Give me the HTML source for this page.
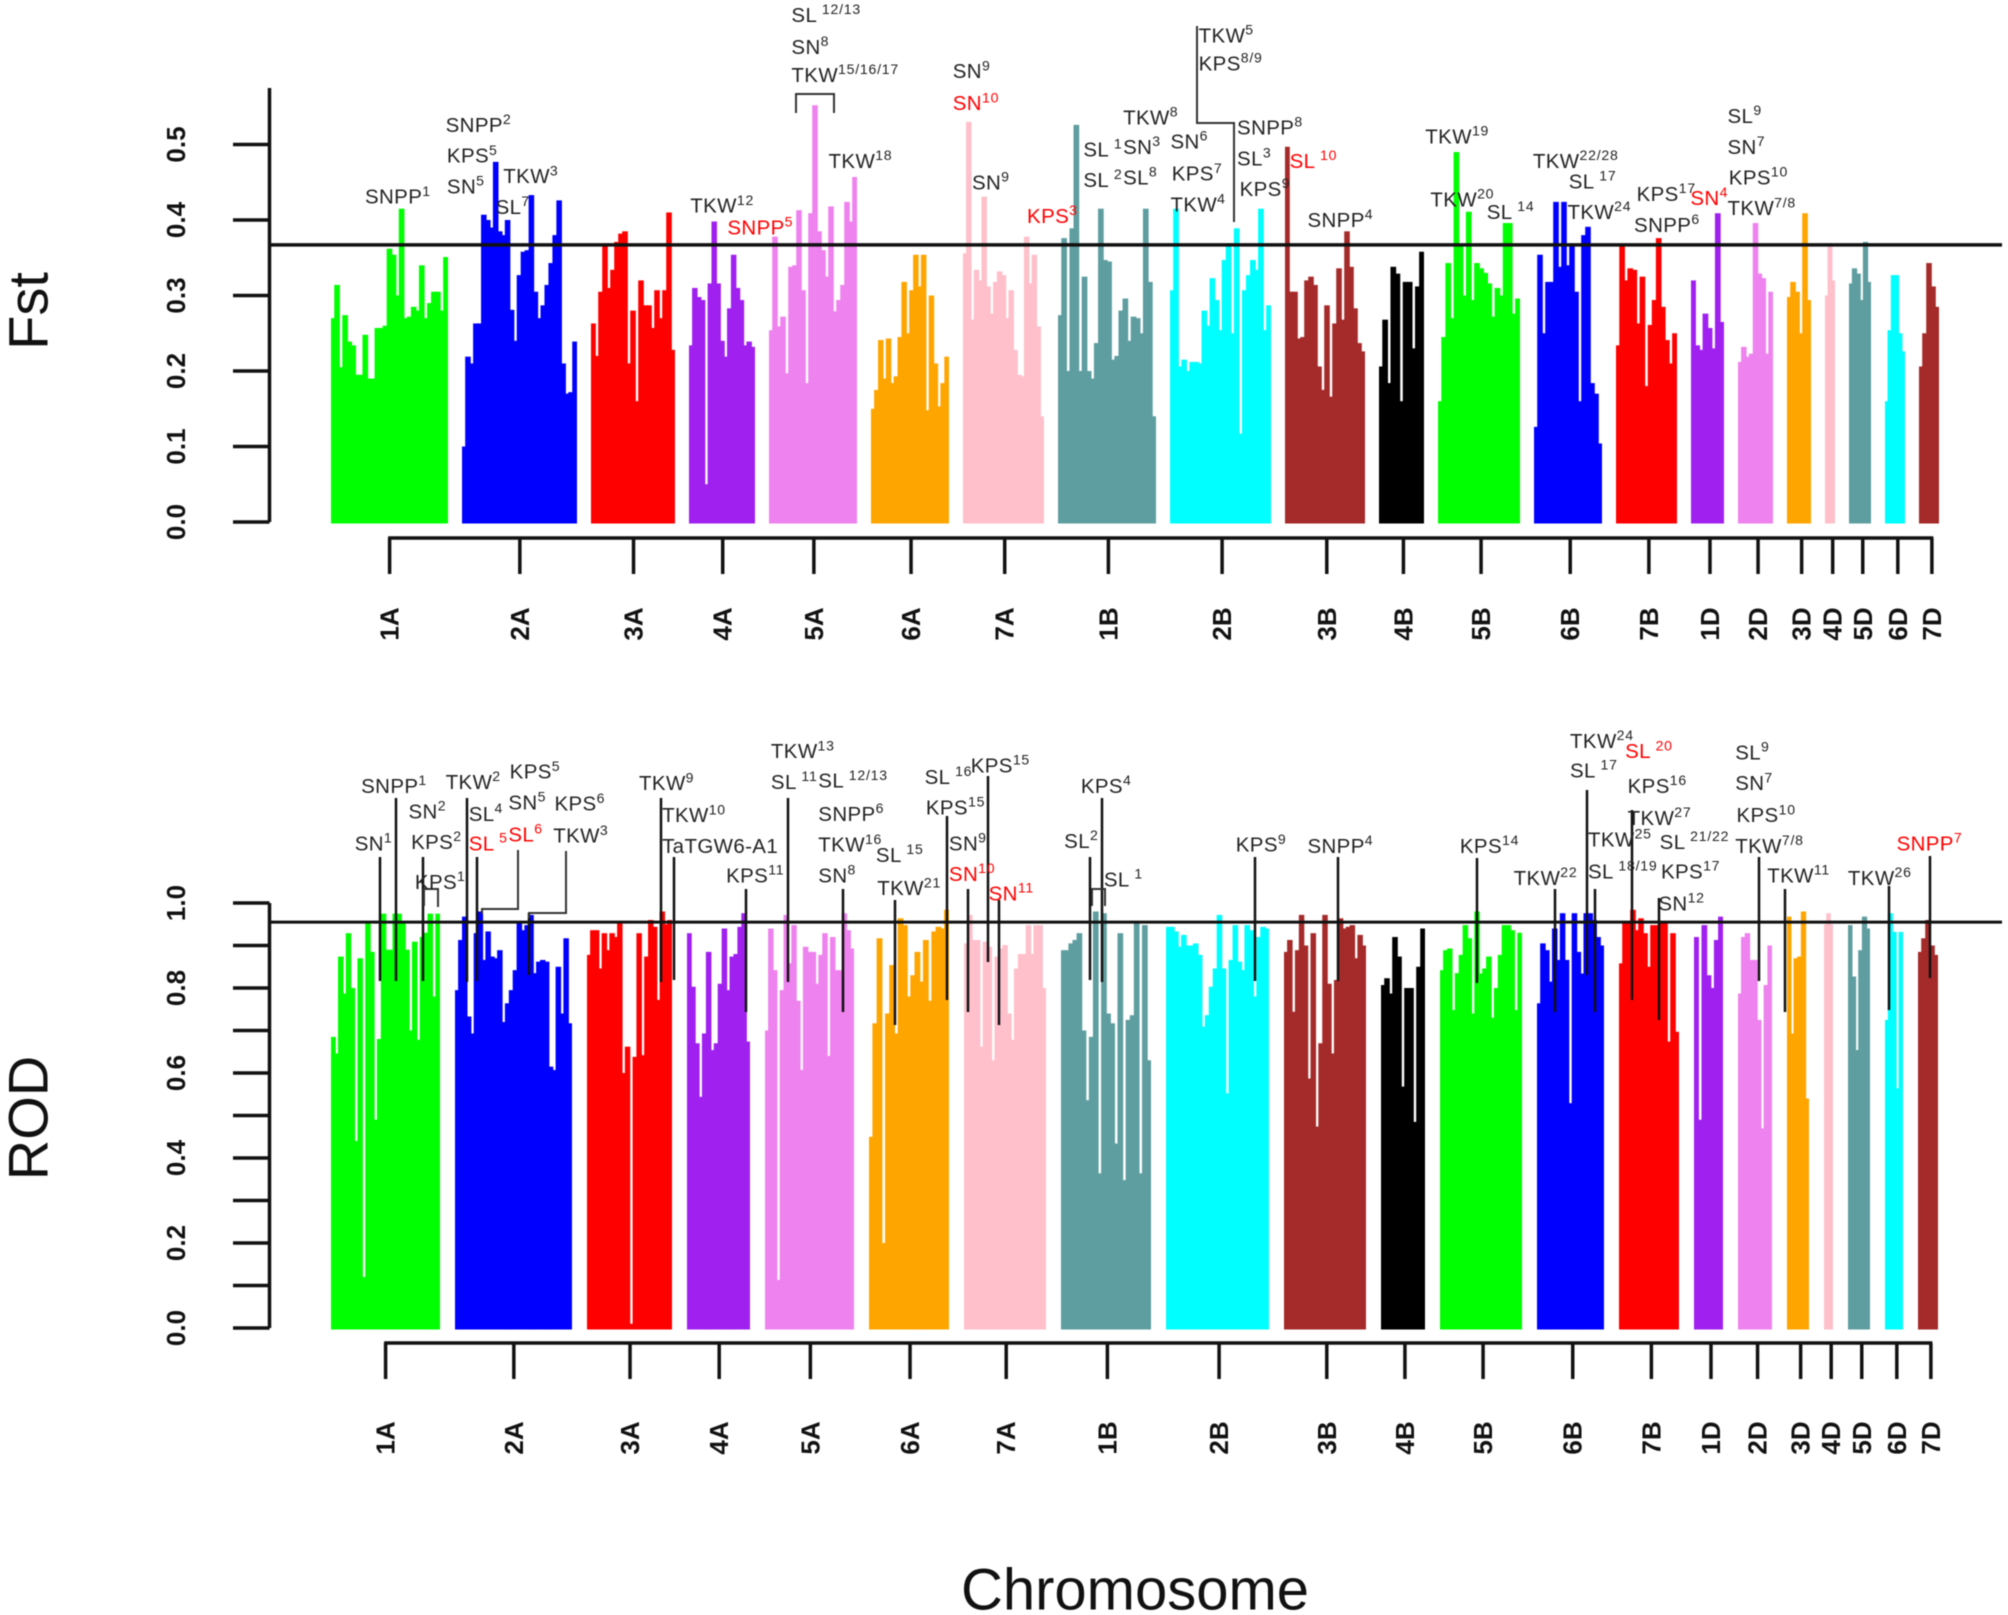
<!DOCTYPE html>
<html lang="en">
<head>
<meta charset="utf-8">
<title>Fst and ROD Manhattan plots</title>
<style>
html,body{margin:0;padding:0;background:#fff;}
svg{display:block;font-family:"Liberation Sans",sans-serif;filter:blur(.6px);}
.ann text{font-size:16px;fill:#222;dominant-baseline:central;letter-spacing:.3px;}
.ann text.r{fill:#f00;}
.ann tspan{font-size:11px;letter-spacing:.6px;}
.ln{stroke:#111;stroke-width:2.5;fill:none;}
.cn{stroke:#333;stroke-width:2;fill:none;}
.t{font-weight:bold;font-size:26px;fill:#111;text-anchor:middle;dominant-baseline:central;}
.title{font-size:56px;fill:#111;text-anchor:middle;dominant-baseline:central;}
</style>
</head>
<body>
<svg id="chart" xmlns="http://www.w3.org/2000/svg" width="2008" height="1615" viewBox="0 0 2008 1615">
<g id="fst-panel"></g>
<g id="rod-panel"></g>

<text class="title" transform="translate(28 311) rotate(-90)">Fst</text>
<text class="title" transform="translate(28 1118) rotate(-90)">ROD</text>
<text class="title" style="font-size:58px" x="1135" y="1590">Chromosome</text>

<g>
<path class="ln" d="M380 857V981"/>
<path class="ln" d="M396 798V981"/>
<path class="ln" d="M423 857V981"/>
<path class="ln" d="M467 798V982"/>
<path class="ln" d="M477 857V981"/>
<path class="ln" d="M529 913V975"/>
<path class="ln" d="M661 798V982"/>
<path class="ln" d="M674 857V980"/>
<path class="ln" d="M746 889V1012"/>
<path class="ln" d="M788 798V982"/>
<path class="ln" d="M843 889V1012"/>
<path class="ln" d="M895 900V1025"/>
<path class="ln" d="M947 816V1000"/>
<path class="ln" d="M968 889V1012"/>
<path class="ln" d="M988 776V962"/>
<path class="ln" d="M999 900V1025"/>
<path class="ln" d="M1090 857V980"/>
<path class="ln" d="M1102 798V982"/>
<path class="ln" d="M1255 857V981"/>
<path class="ln" d="M1338 857V981"/>
<path class="ln" d="M1477 858V983"/>
<path class="ln" d="M1555 889V1012"/>
<path class="ln" d="M1587 790V975"/>
<path class="ln" d="M1595 889V1012"/>
<path class="ln" d="M1632 810V1000"/>
<path class="ln" d="M1659 898V1020"/>
<path class="ln" d="M1759 857V981"/>
<path class="ln" d="M1785 889V1012"/>
<path class="ln" d="M1889 886V1010"/>
<path class="ln" d="M1930 856V978"/>
<path class="cn" d="M424 906V889H438V907"/>
<path class="cn" d="M518 850V909H482V914"/>
<path class="cn" d="M566 851V913H529V918"/>
<path class="cn" d="M1092 906V889H1105V906"/>
<path class="cn" d="M796 113V94H834V113"/>
<path class="cn" d="M1197 26V123H1234V222"/>
</g>

<g class="ann" transform="scale(1.2806)">
<text x="285" y="154">SNPP<tspan dy="-5">1</tspan></text>
<text x="348" y="98">SNPP<tspan dy="-5">2</tspan></text>
<text x="349" y="122">KPS<tspan dy="-5">5</tspan></text>
<text x="349" y="146">SN<tspan dy="-5">5</tspan></text>
<text x="393" y="138">TKW<tspan dy="-5">3</tspan></text>
<text x="387" y="162">SL<tspan dy="-5">7</tspan></text>
<text x="539" y="161">TKW<tspan dy="-5">12</tspan></text>
<text class="r" x="568" y="178">SNPP<tspan dy="-5">5</tspan></text>
<text x="618" y="12">SL<tspan dy="-5"> 12/13</tspan></text>
<text x="618" y="37">SN<tspan dy="-5">8</tspan></text>
<text x="618" y="59">TKW<tspan dy="-5">15/16/17</tspan></text>
<text x="647" y="126">TKW<tspan dy="-5">18</tspan></text>
<text x="744" y="56">SN<tspan dy="-5">9</tspan></text>
<text class="r" x="744" y="81">SN<tspan dy="-5">10</tspan></text>
<text x="759" y="143">SN<tspan dy="-5">9</tspan></text>
<text class="r" x="802" y="169">KPS<tspan dy="-5">3</tspan></text>
<text x="846" y="117">SL<tspan dy="-5"> 1</tspan></text>
<text x="846" y="141">SL<tspan dy="-5"> 2</tspan></text>
<text x="877" y="92">TKW<tspan dy="-5">8</tspan></text>
<text x="877" y="115">SN<tspan dy="-5">3</tspan></text>
<text x="877" y="139">SL<tspan dy="-5">8</tspan></text>
<text x="914" y="111">SN<tspan dy="-5">6</tspan></text>
<text x="915" y="136">KPS<tspan dy="-5">7</tspan></text>
<text x="914" y="160">TKW<tspan dy="-5">4</tspan></text>
<text x="936" y="28">TKW<tspan dy="-5">5</tspan></text>
<text x="936" y="50">KPS<tspan dy="-5">8/9</tspan></text>
<text x="966" y="100">SNPP<tspan dy="-5">8</tspan></text>
<text x="966" y="124">SL<tspan dy="-5">3</tspan></text>
<text x="968" y="148">KPS<tspan dy="-5">9</tspan></text>
<text class="r" x="1007" y="126">SL<tspan dy="-5"> 10</tspan></text>
<text x="1021" y="172">SNPP<tspan dy="-5">4</tspan></text>
<text x="1113" y="107">TKW<tspan dy="-5">19</tspan></text>
<text x="1117" y="156">TKW<tspan dy="-5">20</tspan></text>
<text x="1161" y="166">SL<tspan dy="-5"> 14</tspan></text>
<text x="1197" y="126">TKW<tspan dy="-5">22/28</tspan></text>
<text x="1225" y="142">SL<tspan dy="-5"> 17</tspan></text>
<text x="1224" y="166">TKW<tspan dy="-5">24</tspan></text>
<text x="1278" y="152">KPS<tspan dy="-5">17</tspan></text>
<text x="1276" y="176">SNPP<tspan dy="-5">6</tspan></text>
<text class="r" x="1320" y="155">SN<tspan dy="-5">4</tspan></text>
<text x="1349" y="91">SL<tspan dy="-5">9</tspan></text>
<text x="1349" y="115">SN<tspan dy="-5">7</tspan></text>
<text x="1350" y="139">KPS<tspan dy="-5">10</tspan></text>
<text x="1349" y="163">TKW<tspan dy="-5">7/8</tspan></text>
</g>

<g class="ann" transform="scale(1.2806)">
<text x="277" y="659">SN<tspan dy="-5">1</tspan></text>
<text x="282" y="614">SNPP<tspan dy="-5">1</tspan></text>
<text x="319" y="634">SN<tspan dy="-5">2</tspan></text>
<text x="321" y="658">KPS<tspan dy="-5">2</tspan></text>
<text x="324" y="689">KPS<tspan dy="-5">1</tspan></text>
<text x="348" y="611">TKW<tspan dy="-5">2</tspan></text>
<text x="398" y="603">KPS<tspan dy="-5">5</tspan></text>
<text x="366" y="636">SL<tspan dy="-5">4</tspan></text>
<text x="397" y="627">SN<tspan dy="-5">5</tspan></text>
<text class="r" x="366" y="659">SL<tspan dy="-5"> 5</tspan></text>
<text class="r" x="397" y="652">SL<tspan dy="-5">6</tspan></text>
<text x="433" y="628">KPS<tspan dy="-5">6</tspan></text>
<text x="432" y="653">TKW<tspan dy="-5">3</tspan></text>
<text x="499" y="612">TKW<tspan dy="-5">9</tspan></text>
<text x="517" y="637">TKW<tspan dy="-5">10</tspan></text>
<text x="517" y="661">TaTGW6-A1</text>
<text x="567" y="684">KPS<tspan dy="-5">11</tspan></text>
<text x="602" y="587">TKW<tspan dy="-5">13</tspan></text>
<text x="602" y="611">SL<tspan dy="-5"> 11</tspan></text>
<text x="639" y="610">SL<tspan dy="-5"> 12/13</tspan></text>
<text x="639" y="636">SNPP<tspan dy="-5">6</tspan></text>
<text x="639" y="660">TKW<tspan dy="-5">16</tspan></text>
<text x="639" y="684">SN<tspan dy="-5">8</tspan></text>
<text x="684" y="668">SL<tspan dy="-5"> 15</tspan></text>
<text x="685" y="694">TKW<tspan dy="-5">21</tspan></text>
<text x="722" y="607">SL<tspan dy="-5"> 16</tspan></text>
<text x="723" y="631">KPS<tspan dy="-5">15</tspan></text>
<text x="741" y="659">SN<tspan dy="-5">9</tspan></text>
<text class="r" x="741" y="683">SN<tspan dy="-5">10</tspan></text>
<text x="758" y="598">KPS<tspan dy="-5">15</tspan></text>
<text class="r" x="772" y="698">SN<tspan dy="-5">11</tspan></text>
<text x="831" y="657">SL<tspan dy="-5">2</tspan></text>
<text x="844" y="614">KPS<tspan dy="-5">4</tspan></text>
<text x="862" y="687">SL<tspan dy="-5"> 1</tspan></text>
<text x="965" y="660">KPS<tspan dy="-5">9</tspan></text>
<text x="1021" y="661">SNPP<tspan dy="-5">4</tspan></text>
<text x="1140" y="661">KPS<tspan dy="-5">14</tspan></text>
<text x="1182" y="686">TKW<tspan dy="-5">22</tspan></text>
<text x="1226" y="579">TKW<tspan dy="-5">24</tspan></text>
<text x="1226" y="602">SL<tspan dy="-5"> 17</tspan></text>
<text class="r" x="1269" y="587">SL<tspan dy="-5"> 20</tspan></text>
<text x="1271" y="614">KPS<tspan dy="-5">16</tspan></text>
<text x="1271" y="639">TKW<tspan dy="-5">27</tspan></text>
<text x="1240" y="656">TKW<tspan dy="-5">25</tspan></text>
<text x="1296" y="658">SL<tspan dy="-5"> 21/22</tspan></text>
<text x="1240" y="681">SL<tspan dy="-5"> 18/19</tspan></text>
<text x="1297" y="681">KPS<tspan dy="-5">17</tspan></text>
<text x="1295" y="706">SN<tspan dy="-5">12</tspan></text>
<text x="1355" y="588">SL<tspan dy="-5">9</tspan></text>
<text x="1355" y="612">SN<tspan dy="-5">7</tspan></text>
<text x="1356" y="637">KPS<tspan dy="-5">10</tspan></text>
<text x="1355" y="661">TKW<tspan dy="-5">7/8</tspan></text>
<text x="1380" y="684">TKW<tspan dy="-5">11</tspan></text>
<text x="1443" y="686">TKW<tspan dy="-5">26</tspan></text>
<text class="r" x="1481" y="659">SNPP<tspan dy="-5">7</tspan></text>
</g>
</svg>

<script>
const categories = ["1A","2A","3A","4A","5A","6A","7A","1B","2B","3B","4B","5B","6B","7B","1D","2D","3D","4D","5D","6D","7D"];
const chromColors = ["#00ff00","#0000ff","#ff0000","#a020f0","#ee82ee","#ffa500","#ffc0cb","#5f9ea0","#00ffff","#a52a2a","#000000","#00ff00","#0000ff","#ff0000","#a020f0","#ee82ee","#ffa500","#ffc0cb","#5f9ea0","#00ffff","#a52a2a"];

// chromosome lengths on the genome axis (Mb)
const fstLengths = [585,575,420,330,440,390,405,490,505,400,225,410,340,305,165,175,120,50,110,100,100];
const rodLengths = [545,585,425,315,445,400,410,450,515,410,220,410,335,300,145,170,110,45,110,90,100];
const fstTicks = [0,0.1,0.2,0.3,0.4,0.5];
const rodTicks = [0,0.1,0.2,0.3,0.4,0.5,0.6,0.7,0.8,0.9,1.0];
const rodTickLabels = ["0.0","","0.2","","0.4","","0.6","","0.8","","1.0"];
const fstTickLabels = ["0.0","0.1","0.2","0.3","0.4","0.5"];
const fstThreshold = 0.367;
const rodThreshold = 0.955;

// Fst window maxima per chromosome
const fst1A = [.27,.314,.205,.274,.239,.234,.195,.195,.248,.19,.19,.257,.257,.26,.362,.354,.30,.415,.27,.272,.285,.28,.34,.27,.29,.305,.305,.28,.351];
const fst2A = [.10,.219,.21,.263,.263,.407,.40,.39,.477,.385,.38,.40,.281,.24,.327,.358,.36,.433,.305,.27,.287,.314,.343,.38,.426,.21,.17,.172,.239];
const fst3A = [.263,.22,.305,.369,.31,.334,.371,.382,.385,.21,.28,.16,.32,.287,.287,.257,.307,.27,.307,.41,.228];
const fst4A = [.234,.31,.298,.294,.05,.316,.398,.316,.24,.219,.283,.354,.31,.294,.234,.239,.232];
const fst5A = [.254,.378,.259,.272,.197,.338,.34,.413,.307,.184,.409,.552,.385,.36,.325,.418,.279,.294,.314,.424,.398,.457];
const fst6A = [.15,.175,.241,.19,.243,.184,.193,.245,.318,.25,.307,.354,.312,.354,.148,.3,.21,.153,.184,.219];
const fst7A = [.356,.53,.268,.334,.32,.431,.312,.276,.318,.332,.327,.27,.307,.228,.195,.193,.378,.316,.354,.259,.14];
const fst1B = [.274,.376,.2,.389,.526,.2,.325,.2,.19,.237,.415,.347,.345,.215,.22,.28,.296,.24,.272,.27,.25,.415,.318,.14];
const fst2B = [.307,.415,.206,.215,.2,.212,.212,.21,.28,.26,.323,.294,.254,.347,.369,.25,.389,.117,.307,.327,.347,.334,.415,.254,.287];
const fst3B = [.497,.305,.305,.243,.245,.32,.325,.314,.206,.175,.287,.166,.263,.336,.268,.385,.338,.283,.237,.226];
const fst4B = [.206,.268,.184,.338,.329,.16,.318,.318,.23,.312,.358];
const fst5B = [.16,.245,.343,.27,.49,.365,.3,.411,.294,.343,.336,.33,.316,.272,.31,.3,.396,.396,.276,.296];
const fst6B = [.126,.354,.25,.318,.318,.424,.338,.424,.34,.365,.305,.16,.38,.391,.184,.17,.104];
const fst7B = [.234,.365,.32,.336,.334,.263,.325,.18,.261,.294,.376,.285,.241,.21,.25];
const fst1D = [.32,.234,.228,.276,.257,.23,.409,.265];
const fst2D = [.212,.232,.219,.223,.396,.329,.323,.223,.305];
const fst3D = [.298,.318,.305,.25,.409,.294];
const fst4D = [.30,.365,.32];
const fst5D = [.316,.336,.329,.294,.371,.318];
const fst6D = [.16,.254,.327,.327,.25,.226];
const fst7D = [.206,.25,.343,.312,.285];

// ROD window maxima per chromosome
const rod1A = [.685,.646,.874,.787,.929,.80,.44,.87,.12,.952,.885,.49,.68,.975,.89,.89,.975,.975,.952,.89,.70,.909,.678,.92,.93,.975,.78,.975];
const rod2A = [.795,.913,.968,.733,.693,.929,.98,.866,.933,.874,.87,.889,.72,.764,.795,.842,.952,.936,.948,.972,.835,.862,.866,.862,.615,.607,.85,.74,.917,.717];
const rod3A = [.878,.936,.936,.846,.929,.889,.929,.92,.952,.6,.662,.01,.638,.929,.642,.874,.96,.944,.772,.98,.95,.96];
const rod4A = [.929,.803,.67,.544,.693,.885,.654,.67,.81,.94,.795,.874,.88,.944,.976,.674];
const rod5A = [.70,.94,.842,.113,.795,.972,.858,.948,.77,.607,.897,.885,.885,.81,.878,.929,.64,.92,.842,.842,.976,.936,.893];
const rod6A = [.45,.717,.917,.2,.74,.854,.693,.964,.948,.78,.83,.885,.815,.913,.77,.933,.944,.94,.984];
const rod7A = [.905,.972,.913,.913,.662,.909,.897,.63,.874,.893,.901,.74,.678,.846,.88,.88,.948,.88,.948,.948,.80];
const rod1B = [.889,.889,.905,.913,.929,.70,.536,.685,.98,.364,.976,.74,.717,.434,.929,.348,.725,.736,.952,.364,.948,.63];
const rod2B = [.944,.944,.933,.897,.925,.90,.90,.905,.878,.709,.736,.803,.846,.972,.846,.552,.866,.948,.862,.842,.948,.936,.78,.92,.944,.94];
const rod3B = [.885,.913,.744,.889,.972,.90,.587,.929,.474,.67,.972,.81,.646,.819,.964,.94,.944,.948,.87,.925,.90];
const rod4B = [.807,.823,.787,.92,.874,.568,.80,.80,.485,.85,.94];
const rod5B = [.842,.889,.893,.748,.835,.878,.948,.917,.74,.98,.834,.846,.874,.73,.80,.878,.948,.948,.936,.748,.93];
const rod6B = [.764,.905,.889,.815,.94,.866,.976,.866,.529,.976,.885,.834,.976,.976,.96,.92,.90];
const rod7B = [.858,.952,.952,.984,.936,.964,.929,.85,.948,.948,.952,.952,.674,.929,.697];
const rod1D = [.92,.49,.948,.83,.80,.913,.968];
const rod2D = [.787,.92,.929,.866,.866,.725,.47,.807,.90];
const rod3D = [.968,.693,.87,.874,.98,.54];
const rod4D = [.95,.976,.95];
const rod5D = [.948,.827,.654,.889,.968,.94];
const rod6D = [.725,.976,.932,.564,.932];
const rod7D = [.885,.917,.96,.90,.878];

const fstSeries = [fst1A,fst2A,fst3A,fst4A,fst5A,fst6A,fst7A,fst1B,fst2B,fst3B,fst4B,fst5B,fst6B,fst7B,fst1D,fst2D,fst3D,fst4D,fst5D,fst6D,fst7D];
const rodSeries = [rod1A,rod2A,rod3A,rod4A,rod5A,rod6A,rod7A,rod1B,rod2B,rod3B,rod4B,rod5B,rod6B,rod7B,rod1D,rod2D,rod3D,rod4D,rod5D,rod6D,rod7D];

const SVGNS = "http://www.w3.org/2000/svg";

function make(parent, tag, attrs, text) {
  const el = document.createElementNS(SVGNS, tag);
  for (const k in attrs) el.setAttribute(k, attrs[k]);
  if (text !== undefined) el.textContent = text;
  parent.appendChild(el);
  return el;
}

function drawPanel(cfg) {
  const root = document.getElementById(cfg.id);
  const xScale = pos => 331 + pos * 0.2;
  const yScale = v => cfg.y0 - v * cfg.yPerUnit;
  const tickX = mid => 331 + (xScale(mid) - 331) * 1.0018;
  const spread = 0.8;

  let cursor = 0;
  const mids = [];
  cfg.series.forEach((vals, c) => {
    const len = cfg.lengths[c];
    const g = make(root, "g", {fill: chromColors[c]});
    
    
    const bin = len / vals.length;
    const left = xScale(cursor);
    const right = xScale(cursor + len);
    vals.forEach((v, i) => {
      const top = yScale(v);
      const x0 = Math.max(left, xScale(cursor + i * bin) - spread);
      const x1 = Math.min(right, xScale(cursor + (i + 1) * bin) + spread);
      const bar = make(g, "rect", {
        x: x0.toFixed(2),
        y: top.toFixed(2),
        width: (x1 - x0).toFixed(2),
        height: (yScale(0) + 1.5 - top).toFixed(2)
      });
      
      
    });
    mids.push(cursor + len / 2);
    cursor += len + cfg.gap;
  });

  const yAxis = make(root, "path", {
    d: "M269.5 " + yScale(0) + "V" + cfg.axisTop,
    stroke: "#111", "stroke-width": 3.5, fill: "none"
  });
  
  

  cfg.ticks.forEach((t, i) => {
    const y = yScale(t);
    const tick = make(root, "line", {x1: 233, x2: 269.5, y1: y, y2: y, stroke: "#111", "stroke-width": 3.5});
    
    
    if (cfg.tickLabels[i]) {
      const lab = make(root, "text", {"class": "t", transform: "translate(176 " + y + ") rotate(-90)"}, cfg.tickLabels[i]);
      
      
    }
  });

  const thr = make(root, "line", {x1: 269, x2: 2002, y1: yScale(cfg.threshold), y2: yScale(cfg.threshold), stroke: "#111", "stroke-width": cfg.thrWidth});
  
  

  const xA = tickX(mids[0]);
  const xB = tickX(mids[mids.length - 1]);
  const xAxis = make(root, "line", {x1: xA - 1.5, x2: xB + 1.5, y1: cfg.axisY, y2: cfg.axisY, stroke: "#111", "stroke-width": 3.5});
  
  
  mids.forEach((m, c) => {
    const x = tickX(m);
    const tick = make(root, "line", {x1: x, x2: x, y1: cfg.axisY, y2: cfg.axisY + 36, stroke: "#111", "stroke-width": 3.5});
    
    
    const lab = make(root, "text", {"class": "t", transform: "translate(" + x + " " + cfg.labelY + ") rotate(-90)"}, categories[c]);
    
    
  });
}

drawPanel({id: "fst-panel", key: "fst", series: fstSeries, lengths: fstLengths, gap: 70, y0: 522, yPerUnit: 755, axisTop: 88, ticks: fstTicks, tickLabels: fstTickLabels, threshold: fstThreshold, thrWidth: 3.5, axisY: 538, labelY: 624});
drawPanel({id: "rod-panel", key: "rod", series: rodSeries, lengths: rodLengths, gap: 75, y0: 1328, yPerUnit: 425, axisTop: 903, ticks: rodTicks, tickLabels: rodTickLabels, threshold: rodThreshold, thrWidth: 3, axisY: 1343, labelY: 1438});
</script>
</body>
</html>
